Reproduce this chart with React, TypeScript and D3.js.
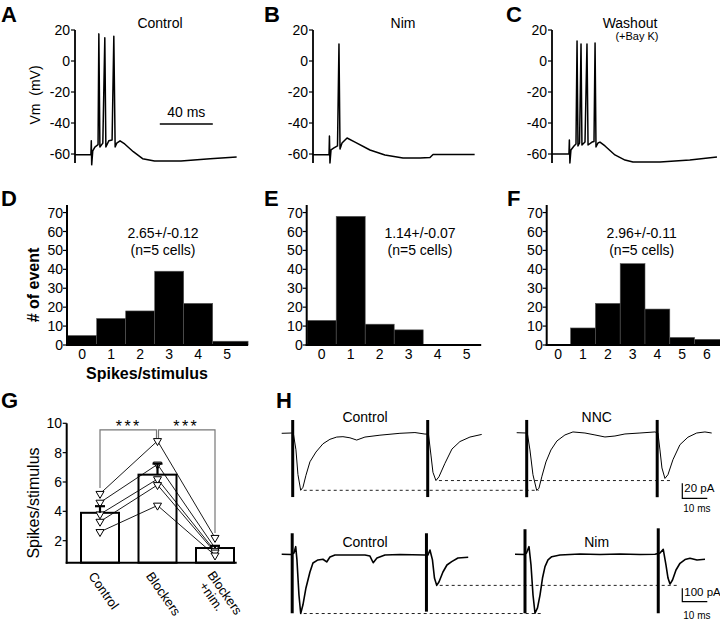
import React from "react";
import * as d3 from "d3";

type P = [number, number];
const FONT = "'Liberation Sans', Arial, Helvetica, sans-serif";

// ---------- A–C: membrane potential (ms, mV) ----------
const vmTicks = [-60, -40, -20, 0, 20];
const vmControl: P[] = [[0,-60.5],[12,-60.5],[12.3,-51.5],[12.6,-67],[13.4,-58],[15,-55.5],[17.4,-54],[18,17.5],[18.8,-55.5],[21,-53],[22.5,15],[23.3,-55.5],[25.5,-51.5],[28,-51],[29.3,16],[30.3,-55.5],[31.5,-53],[34,-51.5],[37.5,-53.5],[44,-58.5],[51,-63],[60,-64.5],[80,-64.5],[102,-63],[122,-62]];
const vmNim: P[] = [[0,-60.5],[12.1,-60.5],[12.4,-48.4],[12.8,-65.8],[13.6,-57.4],[15.8,-56.1],[18.5,-54.8],[19.6,11],[20.4,-56.8],[21.9,-52.9],[25.7,-49.7],[31.7,-52.3],[43,-57.4],[54.3,-60.6],[67.9,-62.6],[80.8,-62.6],[88.3,-62.3],[90.6,-60.3],[99.6,-60.3],[122,-60.3]];
const vmWashout: P[] = [[0,-60],[12.8,-60],[13.1,-51],[13.5,-65.8],[14.3,-57.4],[16.6,-54.8],[18.1,-53.5],[18.9,12.9],[19.6,-54.8],[20.8,-52.9],[21.9,11],[22.6,-54.2],[24.9,-52.3],[26.4,11],[27.2,-54.2],[30.2,-52.3],[31.7,-51.9],[32.5,11.6],[33.2,-55.5],[34.7,-52.9],[36.2,-52.3],[40,-54.8],[47.5,-60.6],[55.1,-63.9],[61.1,-65.2],[81.5,-65.2],[104,-63.9],[124.5,-61.9]];

// ---------- D–F: histograms ----------
const histTicks = [0, 10, 20, 30, 40, 50, 60, 70];
const binsControl = [0, 1, 2, 3, 4, 5];
const countsControl = [5, 14, 18, 39, 22, 2];
const binsNim = [0, 1, 2, 3, 4, 5];
const countsNim = [13, 68, 11, 8, 0, 0];
const binsWashout = [0, 1, 2, 3, 4, 5, 6];
const countsWashout = [0, 9, 22, 43, 19, 4, 3];

// ---------- G: spikes per stimulus ----------
const groupKeys = ["Control", "Blockers", "BlockersNim"];
const groupMeans = [3.9, 6.5, 1.5];
const groupSem = [0.45, 0.75, 0.15];
const cellControl = [5.2, 4.6, 3.8, 3.3, 2.6];
const cellBlockers = [8.8, 7.2, 6.2, 5.8, 4.4];
const cellBlockersNim = [2.2, 1.5, 1.3, 1.2, 1.0];
const gTicks = [2, 4, 6, 8, 10];

// ---------- H: currents (ms, pA) ----------
const hTopControl: P[] = [[0,0],[4.1,0.4],[4.7,-1],[5.7,-22],[6.5,-55],[7.6,-76],[8.5,-72],[9.7,-56],[11.3,-38],[13.7,-25],[16.5,-14],[19.3,-8],[22,-5],[24.5,-4.5],[27.3,-6],[30,-9],[33.3,-5],[39.3,-2.5],[47.3,0],[53.3,1],[57.3,-1],[58.7,-1],[59.7,-29],[60.5,-52],[61.7,-63],[62.9,-58],[65.3,-40],[68.1,-21],[71.3,-11],[75.3,-5],[80,-1.5]];
const hTopNNC: P[] = [[0,0],[3.7,-0.4],[4.3,-1.7],[5.3,-23],[6.5,-56],[8,-77],[8.9,-74],[10.1,-58],[11.7,-39],[13.7,-23],[16.1,-11],[19.3,-3],[22.5,1],[27.3,-0.4],[31.3,-3],[35.3,-5.7],[39.3,-4.4],[43.3,-1.7],[49.3,-0.4],[55.3,1],[56.5,-0.4],[57.3,-23],[58.1,-47],[59.3,-61],[60.5,-56],[62.5,-36],[65.3,-16],[68.5,-6],[72,-0.4],[75.3,1],[78,-0.4]];
const hBotControl: P[] = [[0,0],[3.7,-1.5],[4.9,10],[5.6,57],[6.1,-42],[6.9,-304],[7.6,-442],[8.5,-377],[9.7,-251],[11.3,-132],[12.5,-65],[14.5,-42],[16.5,-37],[18,-57],[19.3,-20],[21.3,-5],[27.3,-5],[33.3,-5],[35.3,-13],[36.6,-63],[38.1,-28],[41.3,-5],[47.3,-1.5],[57.3,-5],[58.5,-5],[59.3,32],[60.3,-42],[61.1,-177],[62,-232],[62.9,-207],[64.5,-132],[66.1,-80],[68,-55],[70.5,-28],[74.6,-22]];
const hBotNim: P[] = [[0,0],[3.6,-1.5],[4.6,10],[5.6,57],[6.4,-80],[7.2,-304],[8,-440],[9,-400],[10,-304],[11,-177],[12,-92],[13.2,-42],[14.7,-18],[18,-5],[26,2],[34,-1.5],[42,2],[50,-1.5],[56,0],[58,10],[59.3,37],[60.4,-80],[61.2,-177],[62,-222],[63,-192],[64.4,-117],[66,-67],[68,-39],[70,-30],[72.8,-42],[76,-37]];
const artTopControl = [{ t: 4.4, hi: 17.7, lo: -85 }, { t: 58.4, hi: 17.7, lo: -85 }];
const artTopNNC = [{ t: 4, hi: 17, lo: -86 }, { t: 56.2, hi: 17, lo: -86 }];
const artBotControl = [{ t: 4.2, hi: 157, lo: -440 }, { t: 57.9, hi: 157, lo: -428 }];
const artBotNim = [{ t: 4, hi: 187, lo: -440 }, { t: 57.3, hi: 194, lo: -440 }];

function VmPanel({ x0, data, letter, letterX, title, titleX, subtitle, subtitleX, yLabel, scaleBar }: any) {
  const y = d3.scaleLinear().domain([-65.8, 20]).range([163, 30]);
  const x = d3.scaleLinear().domain([0, 40]).range([x0, x0 + 53]);
  const line = d3.line<P>().x(d => x(d[0])).y(d => y(d[1]));
  return (
    <g>
      <text x={letterX} y={22} fontSize={22} fontWeight="bold">{letter}</text>
      <line x1={x0} x2={x0} y1={y(20)} y2={y(-65.8)} stroke="#000" strokeWidth={1.8} />
      {vmTicks.map(t => (
        <g key={t}>
          <line x1={x0 - 4} x2={x0} y1={y(t)} y2={y(t)} stroke="#000" strokeWidth={1.2} />
          <text x={x0 - 5} y={y(t)} dy="0.36em" textAnchor="end" fontSize={14}>{String(t)}</text>
        </g>
      ))}
      <path d={line(data) || ""} fill="none" stroke="#000" strokeWidth={1.5} strokeLinejoin="round" />
      <text x={titleX} y={28} textAnchor="middle" fontSize={14}>{title}</text>
      {subtitle && <text x={subtitleX} y={40} textAnchor="middle" fontSize={11}>{subtitle}</text>}
      {yLabel && <text transform={`translate(40,95) rotate(-90)`} textAnchor="middle" fontSize={14} xmlSpace="preserve">{"Vm  (mV)"}</text>}
      {scaleBar && (
        <g>
          <line x1={x(64)} x2={x(104)} y1={y(-40.6)} y2={y(-40.6)} stroke="#000" strokeWidth={1.5} />
          <text x={x(84)} y={117} textAnchor="middle" fontSize={14}>40 ms</text>
        </g>
      )}
    </g>
  );
}

function Hist({ axisX, zeroX, step, xMax, bins, counts, letter, letterX, statX, stat, labels }: any) {
  const y = d3.scaleLinear().domain([0, 74]).range([345, 205]);
  const x = d3.scaleLinear().domain([0, 1]).range([zeroX, zeroX + step]);
  return (
    <g>
      <text x={letterX} y={206} fontSize={22} fontWeight="bold">{letter}</text>
      {bins.map((b: number, i: number) => {
        if (counts[i] <= 0) return null;
        const l = Math.max(axisX, x(b - 0.5));
        const r = i === bins.length - 1 ? x(xMax) : x(b + 0.5);
        return <rect key={b} x={l} y={y(counts[i])} width={r - l} height={y(0) - y(counts[i])} fill="#000" stroke="#555" strokeWidth={0.6} />;
      })}
      <line x1={axisX} x2={axisX} y1={y(0) + 1} y2={205} stroke="#000" strokeWidth={2} />
      <line x1={axisX - 1} x2={x(xMax)} y1={y(0)} y2={y(0)} stroke="#000" strokeWidth={2} />
      {histTicks.map(t => (
        <g key={t}>
          <line x1={axisX - 4} x2={axisX} y1={y(t)} y2={y(t)} stroke="#000" strokeWidth={1.2} />
          <text x={axisX - 4} y={y(t)} dy="0.36em" textAnchor="end" fontSize={14}>{t}</text>
        </g>
      ))}
      {bins.map((b: number) => (
        <text key={b} x={x(b)} y={359} textAnchor="middle" fontSize={14}>{b}</text>
      ))}
      <text x={statX} y={238} textAnchor="middle" fontSize={14}>{stat}</text>
      <text x={statX} y={255} textAnchor="middle" fontSize={14}>(n=5 cells)</text>
      {labels && (
        <g>
          <text x={147} y={379} textAnchor="middle" fontSize={16} fontWeight="bold">Spikes/stimulus</text>
          <text transform="translate(39,285) rotate(-90)" textAnchor="middle" fontSize={16} fontWeight="bold"># of event</text>
        </g>
      )}
    </g>
  );
}

function PanelG() {
  const y = d3.scaleLinear().domain([0.5, 10]).range([562.7, 423.3]);
  const x = d3.scalePoint<string>().domain(groupKeys).range([100, 215]);
  const xs = groupKeys.map(k => x(k) as number);
  const cells = cellControl.map((c, i) => [c, cellBlockers[i], cellBlockersNim[i]]);
  const line = d3.line<number>().x((_, i) => xs[i]).y(d => y(d));
  const tri = d3.symbol().type(d3.symbolTriangle).size(28)() || "";
  const bw = 38;
  const bracketY = y(9.55);
  const gray = "#777";
  return (
    <g>
      <text x={1} y={408} fontSize={22} fontWeight="bold">G</text>
      {groupMeans.map((m, i) => (
        <rect key={i} x={xs[i] - bw / 2} y={y(m)} width={bw} height={y(0.5) - y(m)} fill="#fff" stroke="#000" strokeWidth={2} />
      ))}
      {cells.map((c, i) => (
        <path key={i} d={line(c) || ""} fill="none" stroke="#000" strokeWidth={0.9} />
      ))}
      {cells.map((c, i) => c.map((v, j) => (
        <path key={i + "-" + j} d={tri} transform={`translate(${xs[j]},${y(v)}) rotate(180)`} fill="#fff" stroke="#000" strokeWidth={1} />
      )))}
      {groupMeans.map((m, i) => (
        <g key={i}>
          <line x1={xs[i]} x2={xs[i]} y1={y(m)} y2={y(m + groupSem[i])} stroke="#000" strokeWidth={2.2} />
          <line x1={xs[i] - 5} x2={xs[i] + 5} y1={y(m + groupSem[i])} y2={y(m + groupSem[i])} stroke="#000" strokeWidth={2.2} />
        </g>
      ))}
      <line x1={66.7} x2={66.7} y1={423.3} y2={y(0.5) + 1} stroke="#000" strokeWidth={2} />
      <line x1={65.7} x2={236.7} y1={y(0.5)} y2={y(0.5)} stroke="#000" strokeWidth={2} />
      {gTicks.map(t => (
        <g key={t}>
          <line x1={62.7} x2={66.7} y1={y(t)} y2={y(t)} stroke="#000" strokeWidth={1.2} />
          <text x={62} y={y(t)} dy="0.36em" textAnchor="end" fontSize={14}>{t}</text>
        </g>
      ))}
      <text transform="translate(39,503) rotate(-90)" textAnchor="middle" fontSize={16}>Spikes/stimulus</text>
      <path d={`M${xs[0]},${y(5.59)}V${bracketY}H${xs[1] - 1}V${y(9.0)}M${xs[1] + 1},${y(9.0)}V${bracketY}H${xs[2]}V${y(2.52)}`} fill="none" stroke={gray} strokeWidth={1.2} />
      <text x={(xs[0] + xs[1]) / 2} y={432} textAnchor="middle" fontSize={16} letterSpacing={2.5}>***</text>
      <text x={(xs[1] + xs[2]) / 2} y={432} textAnchor="middle" fontSize={16} letterSpacing={2.5}>***</text>
      <text transform={`translate(${xs[0] - 12},576) rotate(55)`} fontSize={13}>Control</text>
      <text transform={`translate(${xs[1] - 12},576) rotate(55)`} fontSize={13}>Blockers</text>
      <text transform={`translate(${xs[2] - 8},575) rotate(55)`} fontSize={13}>
        <tspan x={0} dy={0}>Blockers</tspan>
        <tspan x={4} dy={13}>+nim.</tspan>
      </text>
    </g>
  );
}

function minPoint(data: P[], t0: number, t1: number): P {
  const seg = data.filter(d => d[0] >= t0 && d[0] < t1);
  return seg.reduce((a, b) => (b[1] < a[1] ? b : a), seg[0]);
}

function HRow({ ctrl, drug, ctrlX0, drugX0, ctrlBase, drugBase, pxPerPA, ctrlArt, drugArt, ctrlTitle, drugTitle, titleY, ends, scale, strokeW }: any) {
  const xc = d3.scaleLinear().domain([0, 10]).range([ctrlX0, ctrlX0 + 25]);
  const xd = d3.scaleLinear().domain([0, 10]).range([drugX0, drugX0 + 25]);
  const yc = d3.scaleLinear().domain([0, 1]).range([ctrlBase, ctrlBase - pxPerPA]);
  const yd = d3.scaleLinear().domain([0, 1]).range([drugBase, drugBase - pxPerPA]);
  const lc = d3.line<P>().x(d => xc(d[0])).y(d => yc(d[1]));
  const ld = d3.line<P>().x(d => xd(d[0])).y(d => yd(d[1]));
  const split = 30;
  const cm = [minPoint(ctrl, 0, split), minPoint(ctrl, split, 200)];
  const dm = [minPoint(drug, 0, split), minPoint(drug, split, 200)];
  const sx = 682.3;
  const sy = scale.y;
  return (
    <g>
      {cm.map((c, i) => (
        <line key={i} x1={xc(c[0]) + 3} x2={xd(dm[i][0]) + ends[i]} y1={yc(c[1])} y2={yc(c[1])} stroke="#222" strokeWidth={1} strokeDasharray="3,3" />
      ))}
      <path d={lc(ctrl) || ""} fill="none" stroke="#000" strokeWidth={strokeW} strokeLinejoin="round" />
      <path d={ld(drug) || ""} fill="none" stroke="#000" strokeWidth={strokeW} strokeLinejoin="round" />
      {ctrlArt.map((a: any, i: number) => (
        <line key={"c" + i} x1={xc(a.t)} x2={xc(a.t)} y1={yc(a.hi)} y2={yc(a.lo)} stroke="#000" strokeWidth={3} />
      ))}
      {drugArt.map((a: any, i: number) => (
        <line key={"d" + i} x1={xd(a.t)} x2={xd(a.t)} y1={yd(a.hi)} y2={yd(a.lo)} stroke="#000" strokeWidth={3} />
      ))}
      <text x={365} y={titleY} textAnchor="middle" fontSize={14}>{ctrlTitle}</text>
      <text x={596.7} y={titleY} textAnchor="middle" fontSize={14}>{drugTitle}</text>
      <path d={`M${sx},${sy - scale.pA * pxPerPA}V${sy}H${sx + 25}`} fill="none" stroke="#000" strokeWidth={1.2} />
      <text x={sx + 2} y={sy - 6} fontSize={11.5}>{scale.label}</text>
      <text x={sx + 1} y={scale.msY} fontSize={10}>10 ms</text>
    </g>
  );
}

export default function App() {
  return (
    <svg width={720} height={621} style={{ position: "absolute", left: 0, top: 0, background: "#fff" }} fontFamily={FONT}>
      <rect width={720} height={621} fill="#fff" />
      <VmPanel x0={75} data={vmControl} letter="A" letterX={1} title="Control" titleX={160} yLabel scaleBar />
      <VmPanel x0={313} data={vmNim} letter="B" letterX={264} title="Nim" titleX={403} />
      <VmPanel x0={552} data={vmWashout} letter="C" letterX={506} title="Washout" titleX={630} subtitle="(+Bay K)" subtitleX={637} />

      <Hist axisX={67} zeroX={82.2} step={29} xMax={5.72} bins={binsControl} counts={countsControl} letter="D" letterX={1} statX={163} stat="2.65+/-0.12" labels />
      <Hist axisX={306.7} zeroX={321.7} step={29} xMax={5.5} bins={binsNim} counts={countsNim} letter="E" letterX={264} statX={420} stat="1.14+/-0.07" />
      <Hist axisX={546.7} zeroX={558.2} step={24.8} xMax={6.55} bins={binsWashout} counts={countsWashout} letter="F" letterX={507} statX={641.7} stat="2.96+/-0.11" />

      <PanelG />

      <text x={276} y={408} fontSize={22} fontWeight="bold">H</text>
      <HRow ctrl={hTopControl} drug={hTopNNC} ctrlX0={281.7} drugX0={516.7} ctrlBase={433.3} drugBase={432.7} pxPerPA={0.75}
        ctrlArt={artTopControl} drugArt={artTopNNC} ctrlTitle="Control" drugTitle="NNC" titleY={422} ends={[2, 8]}
        scale={{ y: 498.3, pA: 20, label: "20 pA", msY: 512 }} strokeW={1} />
      <HRow ctrl={hBotControl} drug={hBotNim} ctrlX0={281.7} drugX0={515} ctrlBase={554.3} drugBase={554.3} pxPerPA={0.134}
        ctrlArt={artBotControl} drugArt={artBotNim} ctrlTitle="Control" drugTitle="Nim" titleY={547} ends={[8, 7]}
        scale={{ y: 601.7, pA: 100, label: "100 pA", msY: 619 }} strokeW={1.6} />
    </svg>
  );
}
